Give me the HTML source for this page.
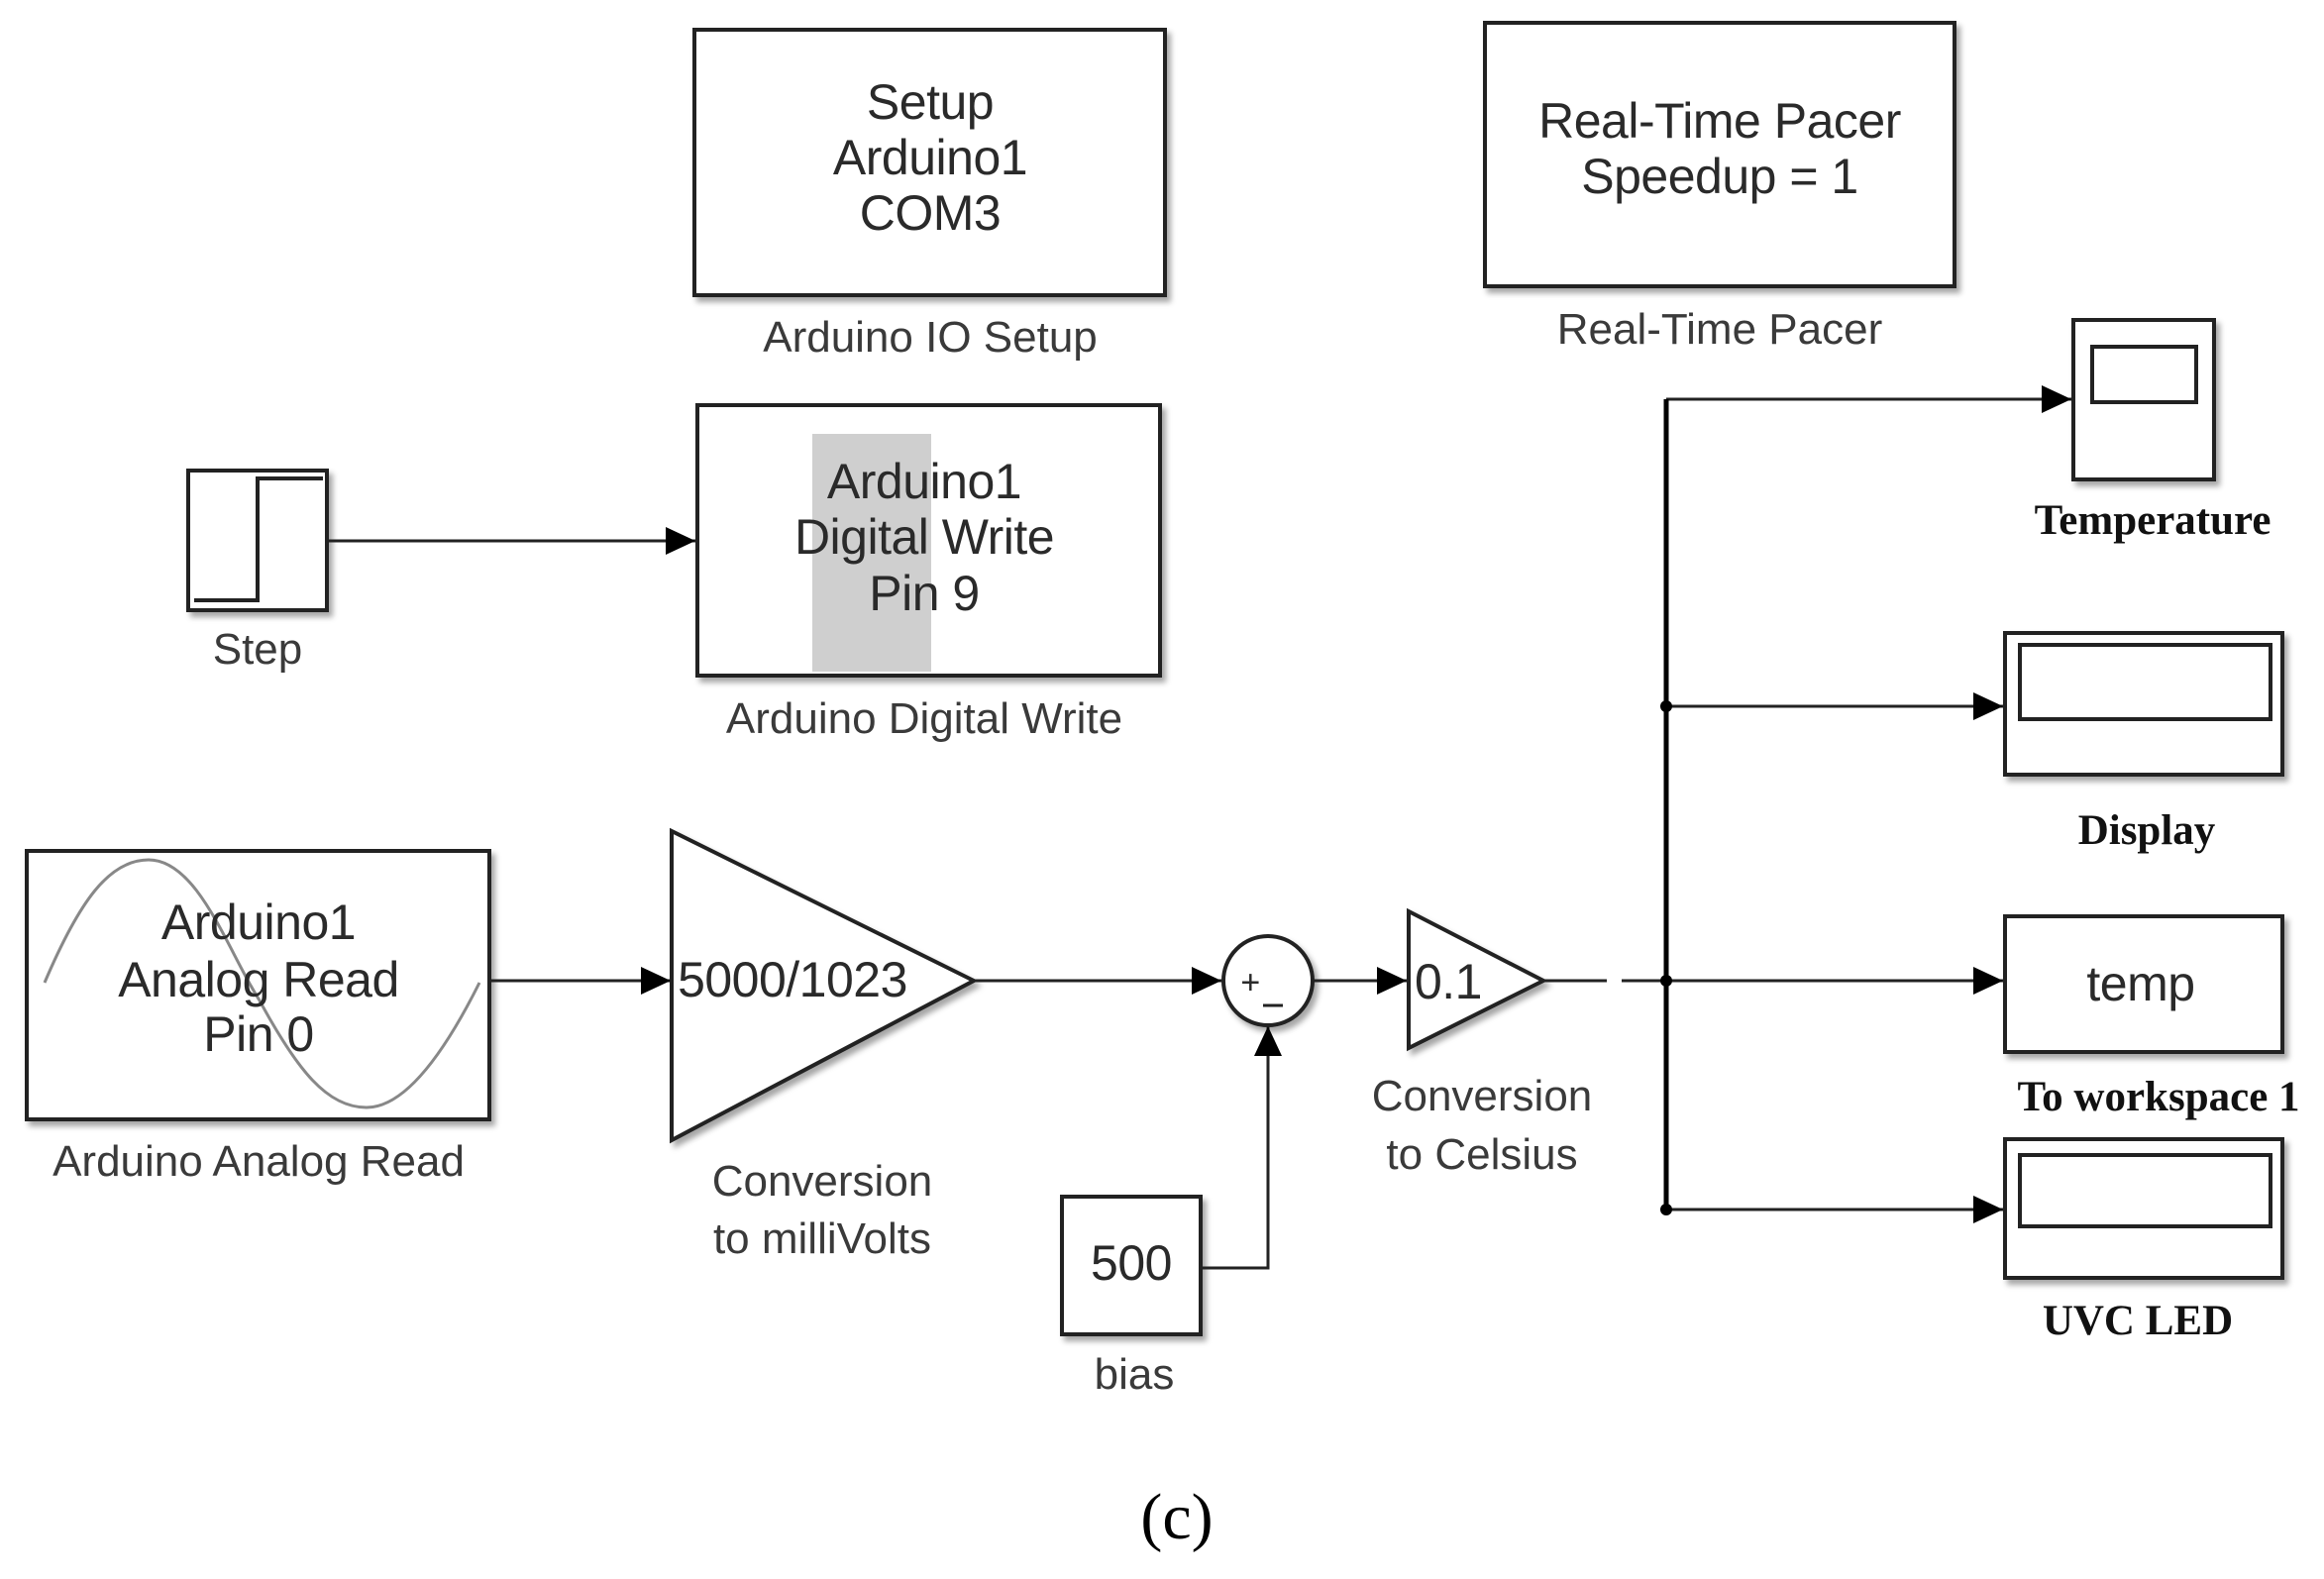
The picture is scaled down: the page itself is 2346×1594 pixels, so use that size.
<!DOCTYPE html>
<html><head><meta charset="utf-8"><style>
html,body{margin:0;padding:0;background:#fff}
svg{display:block}
.b{font-family:"Liberation Sans",Arial,sans-serif;fill:#2a2a2a;font-size:50px;text-anchor:middle;letter-spacing:-0.5px}
.l{font-family:"Liberation Sans",Arial,sans-serif;fill:#3a3a3a;font-size:44px;text-anchor:middle;letter-spacing:0px}
.s{font-family:"Liberation Serif","Times New Roman",serif;fill:#111;font-size:43px;font-weight:bold;text-anchor:middle}
</style></head><body>
<svg width="2346" height="1594" viewBox="0 0 2346 1594" xmlns="http://www.w3.org/2000/svg">
<defs>
<marker id="a" markerWidth="30" markerHeight="28" refX="10" refY="5" orient="auto" markerUnits="userSpaceOnUse" viewBox="0 0 10 10" preserveAspectRatio="none"><path d="M0,0 L10,5 L0,10z" fill="#000"/></marker>
<filter id="sh" x="-5%" y="-5%" width="115%" height="120%"><feDropShadow dx="4" dy="5" stdDeviation="3" flood-color="#000" flood-opacity="0.35"/></filter>
</defs>
<g fill="#fff" stroke="#222" stroke-width="4" filter="url(#sh)">
<rect x="701" y="30" width="475" height="268"/>
<rect x="1499" y="23" width="474" height="266"/>
<rect x="190" y="475" width="140" height="141"/>
<rect x="704" y="409" width="467" height="273"/>
<rect x="27" y="859" width="467" height="271"/>
<polygon points="678,839 678,1151 983,990"/>
<circle cx="1280" cy="990" r="45"/>
<rect x="1072" y="1208" width="140" height="139"/>
<polygon points="1422,920 1422,1058 1558,990"/>
<rect x="2093" y="323" width="142" height="161"/>
<rect x="2024" y="639" width="280" height="143"/>
<rect x="2024" y="925" width="280" height="137"/>
<rect x="2024" y="1150" width="280" height="140"/>
</g>
<rect x="820" y="438" width="120" height="240" fill="#cfcfcf"/>
<polyline points="196,606 260,606 260,483 326,483" fill="none" stroke="#222" stroke-width="4"/>
<path d="M45,992 C80,910 110,868 150,868 C200,868 230,960 262,1010 C300,1080 330,1118 370,1118 C410,1118 450,1060 484,992" fill="none" stroke="#888" stroke-width="3"/>
<rect x="2112" y="350" width="105" height="56" fill="none" stroke="#222" stroke-width="4"/>
<rect x="2039" y="651" width="253" height="75" fill="none" stroke="#222" stroke-width="4"/>
<rect x="2039" y="1166" width="253" height="72" fill="none" stroke="#222" stroke-width="4"/>
<g stroke="#222" stroke-width="3" fill="none">
<line x1="330" y1="546" x2="702" y2="546" marker-end="url(#a)" />
<line x1="494" y1="990" x2="677" y2="990" marker-end="url(#a)"/>
<line x1="983" y1="990" x2="1233" y2="990" marker-end="url(#a)"/>
<polyline points="1212,1280 1280,1280 1280,1036" marker-end="url(#a)"/>
<line x1="1325" y1="990" x2="1420" y2="990" marker-end="url(#a)"/>
<line x1="1558" y1="990" x2="1622" y2="990"/>
<line x1="1637" y1="990" x2="1682" y2="990"/>
<line x1="1682" y1="403" x2="2091" y2="403" marker-end="url(#a)"/>
<line x1="1682" y1="713" x2="2022" y2="713" marker-end="url(#a)"/>
<line x1="1682" y1="990" x2="2022" y2="990" marker-end="url(#a)"/>
<line x1="1682" y1="1221" x2="2022" y2="1221" marker-end="url(#a)"/>
</g>
<line x1="1682" y1="403" x2="1682" y2="1221" stroke="#000" stroke-width="5"/>
<g fill="#000"><circle cx="1682" cy="713" r="6"/><circle cx="1682" cy="990" r="6"/><circle cx="1682" cy="1221" r="6"/></g>
<text x="1262" y="1003" class="b" style="font-size:34px">+</text>
<line x1="1275" y1="1015" x2="1295" y2="1015" stroke="#222" stroke-width="3"/>
<text class="b" x="939" y="120">Setup</text>
<text class="b" x="939" y="176">Arduino1</text>
<text class="b" x="939" y="232">COM3</text>
<text class="l" x="939" y="355">Arduino IO Setup</text>
<text class="b" x="1736" y="139">Real-Time Pacer</text>
<text class="b" x="1736" y="195">Speedup = 1</text>
<text class="l" x="1736" y="347">Real-Time Pacer</text>
<text class="l" x="260" y="670">Step</text>
<text class="b" x="933" y="503">Arduino1</text>
<text class="b" x="933" y="559">Digital Write</text>
<text class="b" x="933" y="616">Pin 9</text>
<text class="l" x="933" y="740">Arduino Digital Write</text>
<text class="b" x="261" y="948">Arduino1</text>
<text class="b" x="261" y="1006">Analog Read</text>
<text class="b" x="261" y="1061">Pin 0</text>
<text class="l" x="261" y="1187">Arduino Analog Read</text>
<text class="b" x="800" y="1006">5000/1023</text>
<text class="l" x="830" y="1207">Conversion</text>
<text class="l" x="830" y="1265">to milliVolts</text>
<text class="b" x="1142" y="1292">500</text>
<text class="l" x="1145" y="1402">bias</text>
<text class="b" x="1462" y="1008">0.1</text>
<text class="l" x="1496" y="1121">Conversion</text>
<text class="l" x="1496" y="1180">to Celsius</text>
<text class="b" x="2161" y="1010">temp</text>
<text class="s" x="2173" y="539">Temperature</text>
<text class="s" x="2167" y="852">Display</text>
<text class="s" x="2179" y="1121">To workspace 1</text>
<text class="s" x="2158" y="1347">UVC LED</text>
<text x="1188" y="1553" style="font-family:'Liberation Serif',serif;font-size:66px;text-anchor:middle;fill:#000">(c)</text>
</svg>
</body></html>
